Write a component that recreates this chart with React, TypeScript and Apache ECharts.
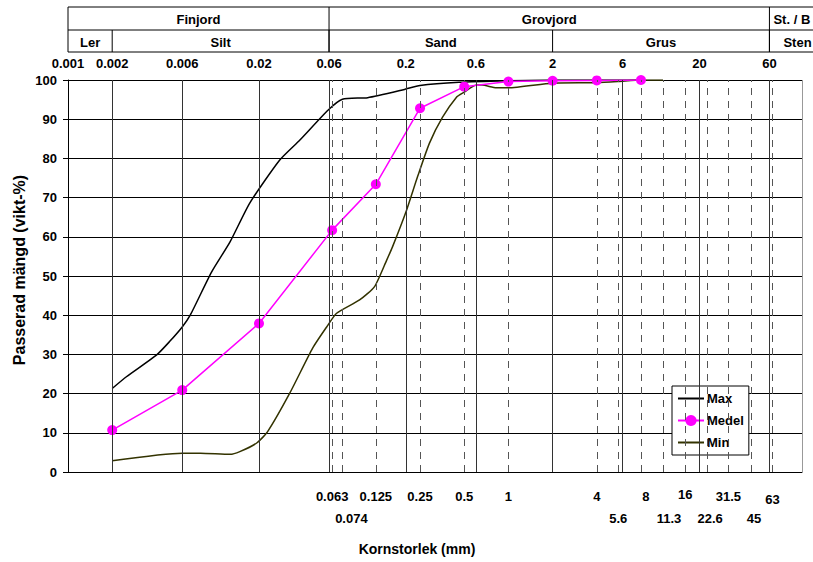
import React, { useEffect, useRef } from 'react';
import * as echarts from 'echarts';

const FONT = '"Liberation Sans", Arial, Helvetica, sans-serif';

// Top (fraction boundary) tick labels
const topTickValues = [0.001, 0.002, 0.006, 0.02, 0.06, 0.2, 0.6, 2, 6, 20, 60];
const topTickLabels = ['0.001', '0.002', '0.006', '0.02', '0.06', '0.2', '0.6', '2', '6', '20', '60'];

// Solid vertical grid lines
const solidLineSizes = [0.002, 0.006, 0.02, 0.06, 0.2, 0.6, 2, 6, 20, 60];

// Sieve sizes (dashed lines + bottom labels)
const sieveSizes = [0.063, 0.074, 0.125, 0.25, 0.5, 1, 4, 5.6, 8, 11.3, 16, 22.6, 31.5, 45, 63];
const sieveLabels = ['0.063', '0.074', '0.125', '0.25', '0.5', '1', '4', '5.6', '8', '11.3', '16', '22.6', '31.5', '45', '63'];
const sieveRow = [0, 1, 0, 0, 0, 0, 0, 1, 0, 1, 0, 1, 0, 1, 0];

// Curves
const maxSizes = [0.002, 0.0025, 0.004, 0.0049, 0.006, 0.0068, 0.0095, 0.0127, 0.0173, 0.0277, 0.038, 0.059, 0.074, 0.11, 0.196, 0.25, 0.46, 1, 2, 4, 8];
const maxValues = [21.3, 24.3, 29.8, 33.2, 37, 40, 51, 58.7, 68.6, 79.6, 84.7, 92.3, 95.1, 95.5, 97.6, 98.6, 99.4, 99.8, 100, 100, 100];

const medelSizes = [0.002, 0.006, 0.02, 0.063, 0.125, 0.25, 0.5, 1, 2, 4, 8];
const medelValues = [10.7, 20.9, 37.9, 61.7, 73.4, 92.8, 98.3, 99.6, 99.8, 99.9, 100];

const minSizes = [0.002, 0.006, 0.008, 0.0127, 0.0148, 0.0193, 0.0229, 0.0324, 0.0464, 0.0578, 0.0676, 0.0969, 0.1225, 0.148, 0.1626, 0.2024, 0.2404, 0.29, 0.356, 0.443, 0.49, 0.606, 0.66, 0.829, 1.0, 2, 4, 5.6, 8, 11.3];
const minValues = [2.9, 4.8, 4.8, 4.5, 5.2, 7.4, 10.3, 20.1, 31.6, 37, 40.5, 43.9, 47.3, 54, 57.5, 66.8, 75.3, 83.9, 90.5, 95.6, 96.7, 98.7, 98.7, 98.0, 98.0, 99.2, 99.3, 99.6, 100, 100];

const yTicks = { min: 0, max: 100, interval: 10 };
const xRange = { min: 0.001, max: 100 };

// Soil fraction header
const headerRow1 = [
  { label: 'Finjord', from: 0.001, to: 0.06 },
  { label: 'Grovjord', from: 0.06, to: 60 },
];
const headerRow2 = [
  { label: 'Ler', from: 0.001, to: 0.002 },
  { label: 'Silt', from: 0.002, to: 0.06 },
  { label: 'Sand', from: 0.06, to: 2 },
  { label: 'Grus', from: 2, to: 60 },
];
const headerTail = { row1: 'St. / B', row2: 'Sten', from: 60 };

const labelNudge: Record<string, number> = { '0.074': 9, '8': 5, '11.3': 6, '22.6': 3, '45': 3 };
const labelYNudge: Record<string, number> = { '16': -2, '63': 3 };

function zip(xs: number[], ys: number[]) {
  return xs.map((x, i) => [x, ys[i]]);
}

export default function App() {
  const ref = useRef<HTMLDivElement>(null);
  useEffect(() => {
    document.body.style.margin = '0';
    const chart = echarts.init(ref.current!, null, { renderer: 'svg' });
    const textBase = { fontFamily: FONT, fontWeight: 'bold' as const, fontSize: 13, fill: '#000' };

    chart.setOption({
      animation: false,
      backgroundColor: '#fff',
      grid: { left: 68, right: 11, top: 80, bottom: 90 },
      xAxis: {
        type: 'log',
        logBase: 10,
        min: xRange.min,
        max: xRange.max,
        axisLine: { show: true, lineStyle: { color: '#000', width: 1 } },
        axisTick: { show: false },
        axisLabel: { show: false },
        splitLine: { show: false },
        minorSplitLine: { show: false },
      },
      yAxis: {
        type: 'value',
        min: yTicks.min,
        max: yTicks.max,
        interval: yTicks.interval,
        axisLine: { show: true, lineStyle: { color: '#000', width: 1 } },
        axisTick: { show: true, length: 5, lineStyle: { color: '#000' } },
        axisLabel: { color: '#000', fontFamily: FONT, fontWeight: 'bold', fontSize: 13, margin: 11 },
        splitLine: { show: true, lineStyle: { color: '#000', width: 1 } },
      },
      legend: {
        data: [
          { name: 'Max', itemStyle: { opacity: 0 } },
          { name: 'Medel' },
          { name: 'Min', itemStyle: { opacity: 0 } },
        ],
        orient: 'vertical',
        left: 672,
        top: 386,
        padding: [6, 5, 6, 5],
        itemGap: 9,
        itemWidth: 26,
        itemHeight: 14,
        backgroundColor: '#fff',
        borderColor: '#000',
        borderWidth: 1,
        selectedMode: false,
        textStyle: { color: '#000', fontFamily: FONT, fontWeight: 'bold', fontSize: 13, padding: [0, 0, 0, -2] },
      },
      series: [
        {
          name: 'grid-lines',
          type: 'line',
          data: [],
          silent: true,
          z: 1,
          markLine: {
            silent: true,
            symbol: 'none',
            precision: 6,
            label: { show: false },
            emphasis: { disabled: true },
            data: [
              ...solidLineSizes.map((v) => ({ xAxis: v, lineStyle: { color: '#333', width: 1, type: 'solid' } })),
              ...sieveSizes.map((v) => ({ xAxis: v, lineStyle: { color: '#555', width: 1, type: [7, 6] } })),
              { xAxis: xRange.max, lineStyle: { color: '#999', width: 1, type: 'solid' } },
            ],
          },
        },
        {
          name: 'Max',
          type: 'line',
          z: 3,
          data: zip(maxSizes, maxValues),
          smooth: 0.2,
          showSymbol: false,
          symbol: 'none',
          lineStyle: { color: '#000', width: 1.5 },
          itemStyle: { color: '#000' },
        },
        {
          name: 'Medel',
          type: 'line',
          z: 4,
          data: zip(medelSizes, medelValues),
          symbol: 'circle',
          symbolSize: 10,
          lineStyle: { color: '#ff00ff', width: 1.5 },
          itemStyle: { color: '#ff00ff' },
        },
        {
          name: 'Min',
          type: 'line',
          z: 3,
          data: zip(minSizes, minValues),
          smooth: 0.2,
          showSymbol: false,
          symbol: 'none',
          lineStyle: { color: '#333300', width: 1.5 },
          itemStyle: { color: '#333300' },
        },
      ],
    });

    const px = (v: number) => chart.convertToPixel({ xAxisIndex: 0 }, v) as number;
    const right = 830;
    const hTop = 7, hMid = 30, hBot = 52;
    const graphics: any[] = [];

    // header table
    graphics.push({
      type: 'rect',
      shape: { x: px(0.001), y: hTop, width: right - px(0.001), height: hBot - hTop },
      style: { fill: 'none', stroke: '#000', lineWidth: 1 },
    });
    graphics.push({
      type: 'line',
      shape: { x1: px(0.001), y1: hMid, x2: right, y2: hMid },
      style: { stroke: '#000', lineWidth: 1 },
    });
    headerRow1.forEach((c) => {
      graphics.push({ type: 'line', shape: { x1: px(c.to), y1: hTop, x2: px(c.to), y2: hBot }, style: { stroke: '#000', lineWidth: 1 } });
      graphics.push({
        type: 'text',
        x: (px(c.from) + px(c.to)) / 2,
        y: (hTop + hMid) / 2 + 1,
        style: { ...textBase, text: c.label, align: 'center', verticalAlign: 'middle' },
      });
    });
    headerRow2.forEach((c) => {
      graphics.push({ type: 'line', shape: { x1: px(c.to), y1: hMid, x2: px(c.to), y2: hBot }, style: { stroke: '#000', lineWidth: 1 } });
      graphics.push({
        type: 'text',
        x: (px(c.from) + px(c.to)) / 2,
        y: (hMid + hBot) / 2 + 1,
        style: { ...textBase, text: c.label, align: 'center', verticalAlign: 'middle' },
      });
    });
    graphics.push({
      type: 'text', x: px(headerTail.from) + 4, y: (hTop + hMid) / 2 + 1,
      style: { ...textBase, text: headerTail.row1, align: 'left', verticalAlign: 'middle' },
    });
    graphics.push({
      type: 'text', x: px(headerTail.from) + 14, y: (hMid + hBot) / 2 + 1,
      style: { ...textBase, text: headerTail.row2, align: 'left', verticalAlign: 'middle' },
    });

    // top tick labels
    topTickValues.forEach((v, i) => {
      graphics.push({
        type: 'text', x: px(v), y: 63,
        style: { ...textBase, text: topTickLabels[i], align: 'center', verticalAlign: 'middle' },
      });
    });

    // bottom sieve labels
    sieveSizes.forEach((v, i) => {
      const lab = sieveLabels[i];
      graphics.push({
        type: 'text',
        x: px(v) + (labelNudge[lab] || 0),
        y: (sieveRow[i] === 0 ? 496 : 518) + (labelYNudge[lab] || 0),
        style: { ...textBase, text: lab, align: 'center', verticalAlign: 'middle' },
      });
    });

    // axis titles
    graphics.push({
      type: 'text', x: 417, y: 549,
      style: { ...textBase, fontSize: 14, text: 'Kornstorlek (mm)', align: 'center', verticalAlign: 'middle' },
    });
    graphics.push({
      type: 'text', x: 19, y: 270, rotation: Math.PI / 2,
      style: { ...textBase, fontSize: 16, text: 'Passerad mängd (vikt-%)', align: 'center', verticalAlign: 'middle' },
    });

    chart.setOption({ graphic: graphics });
    return () => chart.dispose();
  }, []);

  return <div ref={ref} style={{ position: 'fixed', left: 0, top: 0, width: 813, height: 562 }} />;
}
